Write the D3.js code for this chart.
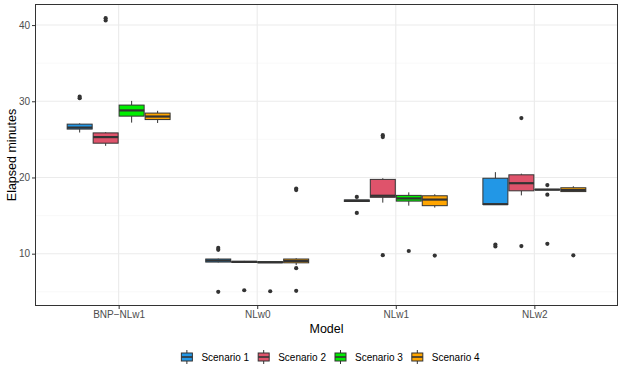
<!DOCTYPE html>
<html><head><meta charset="utf-8">
<script src="https://cdn.jsdelivr.net/npm/d3@7"></script>
<style>body{margin:0;background:#fff}svg{display:block;font-family:"Liberation Sans",Arial,sans-serif}</style>
</head><body><svg id="c" width="623" height="374"></svg>
<script>
const models = ["BNP-NLw1", "NLw0", "NLw1", "NLw2"];
const scenarios = ["Scenario 1", "Scenario 2", "Scenario 3", "Scenario 4"];
const colors = ["#2297E6", "#DF536B", "#00EE00", "#FFA500"];
const yTicks = [10, 20, 30, 40];
// per model: [lower whisker, q1, median, q3, upper whisker]
const scenario1Stats = [[25.9, 26.35, 26.55, 27.0, 27.1], [8.85, 8.9, 9.1, 9.3, 9.35], [16.8, 16.85, 16.95, 17.05, 17.1], [16.45, 16.45, 16.5, 19.9, 20.7]];
const scenario2Stats = [[24.15, 24.5, 25.3, 25.85, 25.95], [8.8, 8.85, 8.92, 9.0, 9.05], [16.7, 17.4, 17.6, 19.75, 19.9], [17.65, 18.25, 19.25, 20.35, 20.5]];
const scenario3Stats = [[27.2, 28.05, 28.8, 29.5, 30.05], [8.8, 8.82, 8.87, 8.95, 9.0], [16.3, 16.9, 17.25, 17.65, 18.05], [18.35, 18.38, 18.4, 18.45, 18.5]];
const scenario4Stats = [[27.15, 27.6, 28.0, 28.45, 28.75], [8.5, 8.8, 9.05, 9.3, 9.4], [16.05, 16.3, 17.1, 17.6, 17.8], [18.1, 18.15, 18.35, 18.65, 18.85]];
const scenario1Outliers = [[30.4, 30.6], [10.5, 10.75, 5.0], [17.45, 15.35], [11.2, 10.95]];
const scenario2Outliers = [[40.6, 40.9], [5.2], [25.3, 25.55, 9.8], [27.8, 11.0]];
const scenario3Outliers = [[], [5.07], [10.35], [19.0, 17.75, 11.3]];
const scenario4Outliers = [[], [18.35, 18.55, 8.1, 5.12], [9.75], [9.78]];

const stats = [scenario1Stats, scenario2Stats, scenario3Stats, scenario4Stats];
const outs = [scenario1Outliers, scenario2Outliers, scenario3Outliers, scenario4Outliers];

const svg = d3.select("#c");
const L = 35.5, R = 617.5, T = 4.5, B = 305.5;
const x = d3.scalePoint().domain(models).range([L, R]).padding(0.6);
const step = x.step();
const xs = d3.scaleBand().domain(scenarios).range([-0.375 * step, 0.375 * step]);
const bw = xs.bandwidth();
const y = d3.scaleLinear().domain([3.2, 42.7]).range([B, T]);

const minor = [5, 15, 25, 35];
const g = svg.append("g");
g.selectAll(".mn").data(minor).join("line").attr("x1", L).attr("x2", R)
  .attr("y1", d => y(d)).attr("y2", d => y(d)).attr("stroke", "#F5F5F5").attr("stroke-width", 0.6);
g.selectAll(".mj").data(yTicks).join("line").attr("x1", L).attr("x2", R)
  .attr("y1", d => y(d)).attr("y2", d => y(d)).attr("stroke", "#EBEBEB").attr("stroke-width", 1.1);
g.selectAll(".mx").data(models).join("line").attr("y1", T).attr("y2", B)
  .attr("x1", d => x(d)).attr("x2", d => x(d)).attr("stroke", "#EBEBEB").attr("stroke-width", 1.1);

const ink = "#333333";
scenarios.forEach((s, si) => {
  models.forEach((m, mi) => {
    const st = stats[si][mi];
    const cx = x(m) + xs(s) + bw / 2;
    const bg = svg.append("g");
    bg.append("line").attr("x1", cx).attr("x2", cx).attr("y1", y(st[4])).attr("y2", y(st[3])).attr("stroke", ink).attr("stroke-width", 1);
    bg.append("line").attr("x1", cx).attr("x2", cx).attr("y1", y(st[1])).attr("y2", y(st[0])).attr("stroke", ink).attr("stroke-width", 1);
    bg.append("rect").attr("x", cx - bw / 2 + 0.5).attr("width", bw - 1)
      .attr("y", y(st[3])).attr("height", Math.max(0.5, y(st[1]) - y(st[3])))
      .attr("fill", colors[si]).attr("stroke", ink).attr("stroke-width", 1);
    bg.append("line").attr("x1", cx - bw / 2 + 0.5).attr("x2", cx + bw / 2 - 0.5)
      .attr("y1", y(st[2])).attr("y2", y(st[2])).attr("stroke", ink).attr("stroke-width", 2.2);
    bg.selectAll("circle").data(outs[si][mi]).join("circle")
      .attr("cx", cx).attr("cy", d => y(d)).attr("r", 2.1).attr("fill", ink);
  });
});

svg.append("rect").attr("x", L).attr("y", T).attr("width", R - L).attr("height", B - T)
  .attr("fill", "none").attr("stroke", ink).attr("stroke-width", 1);

const ya = svg.append("g").attr("transform", `translate(${L},0)`)
  .call(d3.axisLeft(y).tickValues(yTicks).tickSize(3.5).tickPadding(2));
const xa = svg.append("g").attr("transform", `translate(0,${B})`)
  .call(d3.axisBottom(x).tickSize(3.5).tickPadding(1.5).tickFormat(d => d.replace("-", "\u2212")));
[ya, xa].forEach(a => {
  a.select(".domain").remove();
  a.selectAll(".tick line").attr("stroke", ink);
  a.selectAll(".tick text").attr("fill", "#4D4D4D").attr("font-size", 10)
    .attr("font-family", "Liberation Sans, Arial, sans-serif");
});

svg.append("text").attr("x", (L + R) / 2).attr("y", 332.5).attr("text-anchor", "middle")
  .attr("font-size", 12.5).attr("fill", "#000").text("Model");
svg.append("text").attr("transform", `translate(16,${(T + B) / 2}) rotate(-90)`).attr("text-anchor", "middle")
  .attr("font-size", 12.5).attr("fill", "#000").text("Elapsed minutes");

// legend
const lg = svg.append("g");
const items = lg.selectAll("g").data(scenarios).join("g");
const kx = 5.5, tx = 20;
items.append("text").attr("x", tx).attr("y", 361).attr("font-size", 10).attr("fill", "#000").text(d => d);
let widths = [];
items.each(function () { widths.push(this.querySelector("text").getComputedTextLength()); });
const gap = 9;
const total = d3.sum(widths) + scenarios.length * tx + (scenarios.length - 1) * gap;
let cur = 330.5 - total / 2;
items.each(function (d, i) {
  const it = d3.select(this).attr("transform", `translate(${cur},0)`);
  it.append("line").attr("x1", kx).attr("x2", kx).attr("y1", 350).attr("y2", 364).attr("stroke", ink);
  it.append("rect").attr("x", kx - 5.5).attr("y", 353).attr("width", 11).attr("height", 8)
    .attr("fill", colors[i]).attr("stroke", ink).attr("stroke-width", 1);
  it.append("line").attr("x1", kx - 5.5).attr("x2", kx + 5.5).attr("y1", 357).attr("y2", 357).attr("stroke", ink).attr("stroke-width", 1.6);
  cur += tx + widths[i] + gap;
});
</script></body></html>
